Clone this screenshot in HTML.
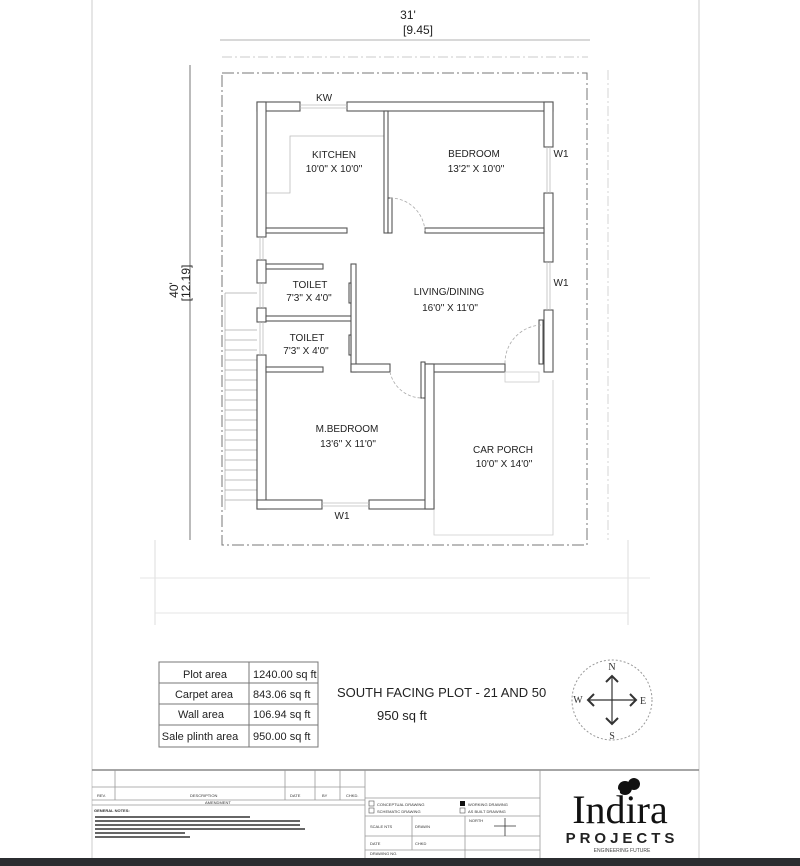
<!DOCTYPE html>
<html><head><meta charset="utf-8"><style>
html,body{margin:0;padding:0;background:#fff;}
svg{display:block;font-family:"Liberation Sans",sans-serif;}
</style></head><body>
<svg width="800" height="866" viewBox="0 0 800 866" xmlns="http://www.w3.org/2000/svg">
<rect width="800" height="866" fill="#fff"/>
<line x1="92" y1="0" x2="92" y2="858" stroke="#ccc"/>
<line x1="699" y1="0" x2="699" y2="858" stroke="#ccc"/>
<!-- dimensions -->
<text x="408" y="19" font-size="12" text-anchor="middle" fill="#222">31'</text>
<text x="418" y="34" font-size="12" text-anchor="middle" fill="#222">[9.45]</text>
<line x1="220" y1="40" x2="590" y2="40" stroke="#999" stroke-width="0.8"/>
<line x1="222" y1="57" x2="588" y2="57" stroke="#bbb" stroke-width="0.8" stroke-dasharray="10,3,2,3"/>
<line x1="190" y1="65" x2="190" y2="540" stroke="#555" stroke-width="0.8"/>
<text transform="translate(178,290) rotate(-90)" font-size="12" text-anchor="middle" fill="#222">40'</text>
<text transform="translate(190,283) rotate(-90)" font-size="12" text-anchor="middle" fill="#222">[12.19]</text>
<!-- plot boundary -->
<rect x="222" y="73" width="365" height="472" fill="none" stroke="#777" stroke-width="1" stroke-dasharray="12,3,2,3"/>
<line x1="608" y1="70" x2="608" y2="540" stroke="#ccc" stroke-width="0.8" stroke-dasharray="10,3,2,3"/>
<line x1="155" y1="540" x2="155" y2="625" stroke="#ddd"/>
<line x1="628" y1="540" x2="628" y2="625" stroke="#ddd"/>
<line x1="140" y1="578" x2="650" y2="578" stroke="#e4e4e4"/>
<line x1="155" y1="613" x2="628" y2="613" stroke="#e4e4e4"/>
<!-- car porch dashed -->
<polyline points="434,510 434,535 553,535 553,380" fill="none" stroke="#ccc" stroke-width="0.8"/>
<!-- stairs -->
<g stroke="#aaa" stroke-width="0.7">
<line x1="225" y1="293" x2="225" y2="510"/>
<line x1="225" y1="293" x2="257" y2="293"/>
<line x1="225" y1="330" x2="257" y2="330"/>
<line x1="225" y1="340" x2="257" y2="340"/><line x1="225" y1="350" x2="257" y2="350"/>
<line x1="225" y1="360" x2="257" y2="360"/><line x1="225" y1="370" x2="257" y2="370"/>
<line x1="225" y1="380" x2="257" y2="380"/><line x1="225" y1="390" x2="257" y2="390"/>
<line x1="225" y1="400" x2="257" y2="400"/><line x1="225" y1="410" x2="257" y2="410"/>
<line x1="225" y1="420" x2="257" y2="420"/><line x1="225" y1="430" x2="257" y2="430"/>
<line x1="225" y1="440" x2="257" y2="440"/><line x1="225" y1="450" x2="257" y2="450"/>
<line x1="225" y1="460" x2="257" y2="460"/><line x1="225" y1="470" x2="257" y2="470"/>
<line x1="225" y1="480" x2="257" y2="480"/><line x1="225" y1="490" x2="257" y2="490"/>
<line x1="225" y1="500" x2="257" y2="500"/>
</g>
<!-- kitchen counter -->
<polyline points="384,136 290,136 290,193 266,193" fill="none" stroke="#bbb" stroke-width="0.8"/>
<!-- walls -->
<g fill="#fff" stroke="#555" stroke-width="1.1">
<rect x="257" y="102" width="43" height="9"/>
<rect x="347" y="102" width="206" height="9"/>
<rect x="257" y="102" width="9" height="135"/>
<rect x="257" y="260" width="9" height="23"/>
<rect x="257" y="308" width="9" height="14"/>
<rect x="257" y="355" width="9" height="154"/>
<rect x="257" y="500" width="65" height="9"/>
<rect x="369" y="500" width="65" height="9"/>
<rect x="544" y="102" width="9" height="45"/>
<rect x="544" y="193" width="9" height="69"/>
<rect x="544" y="310" width="9" height="62"/>
<rect x="384" y="111" width="4" height="122"/>
<rect x="266" y="228" width="81" height="5"/>
<rect x="425" y="228" width="119" height="5"/>
<rect x="266" y="264" width="57" height="5"/>
<rect x="266" y="316" width="87" height="5"/>
<rect x="266" y="367" width="57" height="5"/>
<rect x="351" y="264" width="5" height="108"/>
<rect x="351" y="364" width="39" height="8"/>
<rect x="425" y="364" width="80" height="8"/>
<rect x="425" y="364" width="9" height="145"/>
</g>
<!-- door leaves -->
<g fill="#fff" stroke="#444" stroke-width="1">
<rect x="388" y="198" width="4" height="35"/>
<rect x="421" y="362" width="4" height="36"/>
<rect x="539" y="320" width="4" height="44"/>
<rect x="349" y="283" width="2" height="20"/>
<rect x="349" y="335" width="2" height="20"/>
</g>
<g fill="none" stroke="#aaa" stroke-width="0.8" stroke-dasharray="3,2">
<path d="M390,198 A35,35 0 0 1 425,233"/>
<path d="M390,372 A33,33 0 0 0 423,398"/>
<path d="M541,325 A38,38 0 0 0 505,364"/>
</g>
<rect x="505" y="372" width="34" height="10" fill="none" stroke="#ccc" stroke-width="0.8"/>
<!-- windows -->
<g stroke="#bbb" stroke-width="0.8">
<line x1="300" y1="105" x2="347" y2="105"/><line x1="300" y1="108" x2="347" y2="108"/>
<line x1="322" y1="503" x2="369" y2="503"/><line x1="322" y1="506" x2="369" y2="506"/>
<line x1="547" y1="147" x2="547" y2="193"/><line x1="550" y1="147" x2="550" y2="193"/>
<line x1="547" y1="262" x2="547" y2="310"/><line x1="550" y1="262" x2="550" y2="310"/>
<line x1="260" y1="237" x2="260" y2="260"/><line x1="263" y1="237" x2="263" y2="260"/>
<line x1="260" y1="283" x2="260" y2="308"/><line x1="263" y1="283" x2="263" y2="308"/>
<line x1="260" y1="322" x2="260" y2="355"/><line x1="263" y1="322" x2="263" y2="355"/>
</g>
<!-- labels -->
<g font-size="10" fill="#222" text-anchor="middle">
<text x="324" y="101">KW</text>
<text x="342" y="519">W1</text>
<text x="561" y="157">W1</text>
<text x="561" y="286">W1</text>
<text x="334" y="158">KITCHEN</text>
<text x="334" y="172">10'0" X 10'0"</text>
<text x="474" y="157">BEDROOM</text>
<text x="476" y="172">13'2" X 10'0"</text>
<text x="310" y="288">TOILET</text>
<text x="309" y="301">7'3" X 4'0"</text>
<text x="307" y="341">TOILET</text>
<text x="306" y="354">7'3" X 4'0"</text>
<text x="449" y="295">LIVING/DINING</text>
<text x="450" y="311">16'0" X 11'0"</text>
<text x="347" y="432">M.BEDROOM</text>
<text x="348" y="447">13'6" X 11'0"</text>
<text x="503" y="453">CAR PORCH</text>
<text x="504" y="467">10'0" X 14'0"</text>
</g>
<!-- area table -->
<g stroke="#777" stroke-width="1" fill="none">
<rect x="159" y="662" width="159" height="85"/>
<line x1="249" y1="662" x2="249" y2="747"/>
<line x1="159" y1="683" x2="318" y2="683"/>
<line x1="159" y1="704" x2="318" y2="704"/>
<line x1="159" y1="725" x2="318" y2="725"/>
</g>
<g font-size="11" fill="#222">
<text x="205" y="678" text-anchor="middle">Plot area</text>
<text x="204" y="698" text-anchor="middle">Carpet area</text>
<text x="201" y="718" text-anchor="middle">Wall area</text>
<text x="200" y="740" text-anchor="middle">Sale plinth area</text>
<text x="253" y="678">1240.00 sq ft</text>
<text x="253" y="698">843.06 sq ft</text>
<text x="253" y="718">106.94 sq ft</text>
<text x="253" y="740">950.00 sq ft</text>
</g>
<text x="337" y="697" font-size="13" fill="#222">SOUTH FACING PLOT - 21 AND 50</text>
<text x="377" y="720" font-size="13" fill="#222">950 sq ft</text>
<!-- compass -->
<circle cx="612" cy="700" r="40" fill="none" stroke="#999" stroke-dasharray="2,2"/>
<g stroke="#333" stroke-width="1.2" fill="none">
<line x1="612" y1="676" x2="612" y2="724"/>
<line x1="588" y1="700" x2="636" y2="700"/>
<polyline points="606,682 612,676 618,682" stroke-width="2"/>
<polyline points="606,718 612,724 618,718" stroke-width="2"/>
<polyline points="594,694 588,700 594,706" stroke-width="2"/>
<polyline points="630,694 636,700 630,706" stroke-width="2"/>
</g>
<g font-family="Liberation Serif,serif" font-size="10" fill="#333" text-anchor="middle">
<text x="612" y="670">N</text><text x="612" y="739">S</text>
<text x="578" y="703">W</text><text x="643" y="704">E</text>
</g>
<!-- title block -->
<line x1="92" y1="770" x2="699" y2="770" stroke="#888" stroke-width="1.5"/>
<g stroke="#999" stroke-width="0.8" fill="none">
<line x1="365" y1="770" x2="365" y2="858"/>
<line x1="540" y1="770" x2="540" y2="858"/>
<line x1="92" y1="787" x2="365" y2="787"/>
<line x1="92" y1="800" x2="365" y2="800"/>
<line x1="92" y1="805" x2="365" y2="805"/>
<line x1="115" y1="770" x2="115" y2="800"/>
<line x1="285" y1="770" x2="285" y2="800"/>
<line x1="315" y1="770" x2="315" y2="800"/>
<line x1="340" y1="770" x2="340" y2="800"/>
<line x1="365" y1="798" x2="540" y2="798"/>
<line x1="365" y1="816" x2="540" y2="816"/>
<line x1="365" y1="836" x2="540" y2="836"/>
<line x1="365" y1="850" x2="540" y2="850"/>
<line x1="465" y1="816" x2="465" y2="858"/>
<line x1="412" y1="816" x2="412" y2="850"/>
</g>
<g font-size="4" fill="#333">
<text x="97" y="797">REV.</text><text x="190" y="797">DESCRIPTION</text>
<text x="290" y="797">DATE</text><text x="322" y="797">BY</text><text x="346" y="797">CHKD.</text>
<text x="205" y="804">AMENDMENT</text>
<text x="94" y="812" font-weight="bold">GENERAL NOTES:</text>
</g>
<g stroke="#333" stroke-width="1.5">
<line x1="95" y1="817" x2="250" y2="817"/>
<line x1="95" y1="821" x2="300" y2="821"/>
<line x1="95" y1="825" x2="300" y2="825"/>
<line x1="95" y1="829" x2="305" y2="829"/>
<line x1="95" y1="833" x2="185" y2="833"/>
<line x1="95" y1="837" x2="190" y2="837"/>
</g>
<rect x="369" y="801" width="5" height="5" fill="none" stroke="#555" stroke-width="0.6"/>
<rect x="369" y="808" width="5" height="5" fill="none" stroke="#555" stroke-width="0.6"/>
<rect x="460" y="801" width="5" height="5" fill="#111"/>
<rect x="460" y="808" width="5" height="5" fill="none" stroke="#555" stroke-width="0.6"/>
<g font-size="4" fill="#333">
<text x="377" y="806">CONCEPTUAL DRAWING</text><text x="377" y="813">SCHEMATIC DRAWING</text>
<text x="468" y="806">WORKING DRAWING</text><text x="468" y="813">AS BUILT DRAWING</text>
<text x="370" y="828">SCALE  NTS</text><text x="415" y="828">DRAWN</text>
<text x="370" y="845">DATE</text><text x="415" y="845">CHKD</text>
<text x="469" y="822">NORTH</text><text x="370" y="855">DRAWING NO.</text>
</g>
<g stroke="#333" stroke-width="0.8"><line x1="505" y1="818" x2="505" y2="836"/><line x1="494" y1="826" x2="516" y2="826"/></g>
<circle cx="625" cy="788" r="7" fill="#111"/><circle cx="634" cy="784" r="6" fill="#111"/><circle cx="617" cy="792" r="3" fill="#fff"/>
<text x="620" y="823" font-family="Liberation Serif,serif" font-size="40" text-anchor="middle" fill="#111">Indira</text>
<text x="622" y="843" font-size="15" font-weight="bold" letter-spacing="4" text-anchor="middle" fill="#222">PROJECTS</text>
<text x="622" y="852" font-size="5" text-anchor="middle" fill="#444">ENGINEERING FUTURE</text>
<rect x="0" y="858" width="800" height="8" fill="#2b2d30"/>
</svg>
</body></html>
